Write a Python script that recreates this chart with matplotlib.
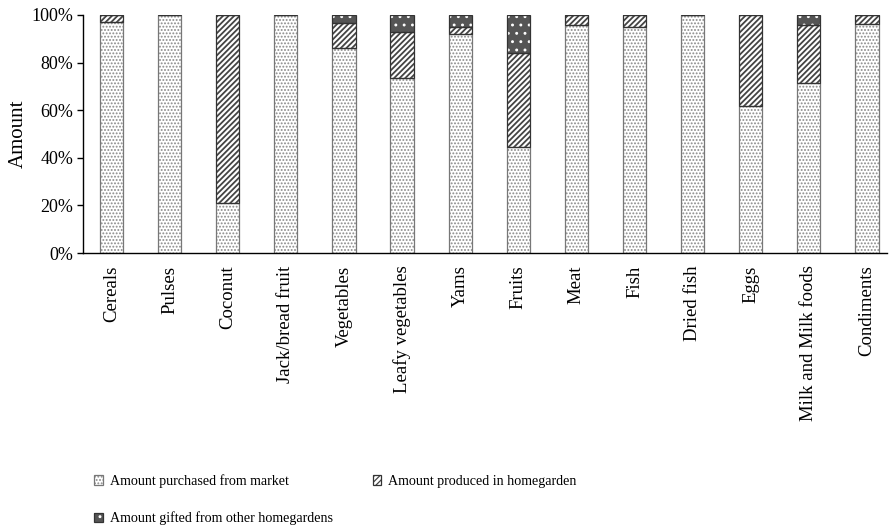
import numpy as np
import matplotlib.pyplot as plt
from matplotlib.legend_handler import HandlerTuple

categories = ['Cereals', 'Pulses', 'Coconut', 'Jack/bread fruit', 'Vegetables',
              'Leafy vegetables', 'Yams', 'Fruits', 'Meat', 'Fish', 'Dried fish',
              'Eggs', 'Milk and Milk foods', 'Condiments']
market = [97.2, 100, 21.1, 100, 86.0, 73.4, 92.0, 44.4, 95.8, 95.1, 100, 61.8, 71.3, 96.2]
homegarden = [2.8, 0, 78.9, 0, 10.8, 19.6, 3.1, 39.5, 4.2, 4.9, 0, 38.2, 24.5, 3.8]
gifted = [0, 0, 0, 0, 3.2, 7.0, 4.9, 16.1, 0, 0, 0, 0, 4.2, 0]

plt.rcParams['font.family'] = ['Liberation Serif', 'DejaVu Serif']
plt.rcParams['hatch.linewidth'] = 0.9

fig = plt.figure(figsize=(8.89, 5.26), dpi=100)
ax = fig.add_axes([0.0934, 0.519, 0.9046, 0.4525])

x = np.arange(len(categories))
w = 0.4
market = np.array(market)
homegarden = np.array(homegarden)
gifted = np.array(gifted)

b1 = ax.bar(x, market, w, color='white', edgecolor='#8a8a8a', hatch='.....', lw=0)
with plt.rc_context({'hatch.linewidth': 1.3}):
    b2 = ax.bar(x, homegarden, w, bottom=market, color='white', edgecolor='#444444', hatch='//////', lw=0)
b3 = ax.bar(x, gifted, w, bottom=market + homegarden, color='#555555', edgecolor='white', hatch='..', lw=0)

# outlines on top
o1 = ax.bar(x, market, w, fill=False, edgecolor='#777777', lw=0.9)
o2 = ax.bar(x, homegarden, w, bottom=market, fill=False, edgecolor='#333333', lw=0.9)
o3 = ax.bar(x, gifted, w, bottom=market + homegarden, fill=False, edgecolor='#333333', lw=0.9)

ax.set_xlim(-0.49, 13.35)
ax.set_ylim(0, 100)
ax.set_yticks([0, 20, 40, 60, 80, 100])
ax.set_yticklabels(['0%', '20%', '40%', '60%', '80%', '100%'], fontsize=13)
ax.set_xticks(x)
ax.set_xticklabels(categories, rotation=90, fontsize=13.5, va='top', ha='center')
ax.tick_params(axis='x', length=0, pad=9)
ax.tick_params(axis='y', length=4, width=1, direction='out', pad=3)
ax.spines['top'].set_visible(False)
ax.spines['right'].set_visible(False)
ax.spines['left'].set_linewidth(1.0)
ax.spines['bottom'].set_linewidth(1.0)

ax.set_ylabel('Amount', fontsize=15)
ax.yaxis.set_label_coords(-0.069, 0.5)

handles = [(b1[0], o1[0]), (b3[0], o3[0]), (b2[0], o2[0])]
labels = ['Amount purchased from market', 'Amount gifted from other homegardens',
          'Amount produced in homegarden']
fig.legend(handles, labels, handler_map={tuple: HandlerTuple(ndivide=1)},
           loc='upper left', bbox_to_anchor=(0.106, 0.099), ncol=2, frameon=False,
           fontsize=10.1, handlelength=0.6, handleheight=0.7, handletextpad=0.5,
           columnspacing=2.85, labelspacing=1.7, borderpad=0, borderaxespad=0)

plt.savefig('out.png', dpi=100)
